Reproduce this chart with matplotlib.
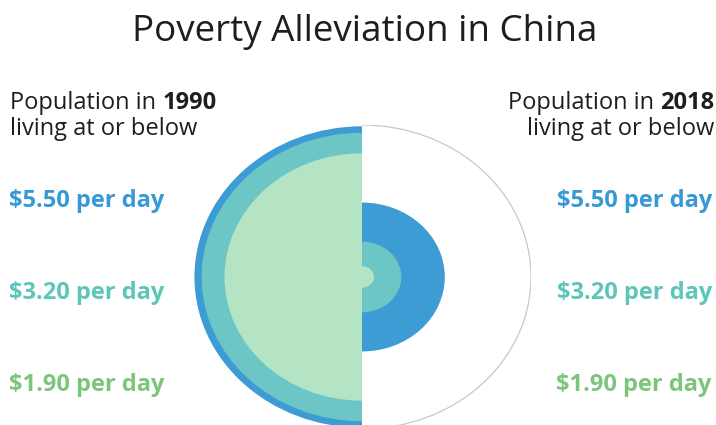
import numpy as np
import matplotlib.pyplot as plt
from matplotlib.patches import Wedge, Arc

# Share of population (%) living at or below each poverty line
thresholds = ['$5.50 per day', '$3.20 per day', '$1.90 per day']
share_1990 = [98.3, 90.0, 66.2]
share_2018 = [24.0, 5.4, 0.5]
years = ['1990', '2018']

fill_colors = ['#3e9cd4', '#6cc6c6', '#b4e4c4']
label_colors = ['#3799d6', '#5dc6b8', '#7cc67c']

plt.rcParams['font.family'] = ['Open Sans', 'DejaVu Sans']

W, H = 716, 425
fig = plt.figure(figsize=(W / 100, H / 100), dpi=100)
fig.patch.set_facecolor('white')

# text layer in pixel coordinates (origin top-left)
ax = fig.add_axes([0, 0, 1, 1])
ax.set_xlim(0, W)
ax.set_ylim(H, 0)
ax.axis('off')

# circle layer: radius 1 = whole population, area proportional to share
cx, cy = 362, 277
rx, ry = 169, 152
cax = fig.add_axes([(cx - rx) / W, (H - cy - ry) / H, 2 * rx / W, 2 * ry / H])
cax.set_xlim(-1, 1)
cax.set_ylim(-1, 1)
cax.axis('off')

for i in range(len(thresholds)):
    r90 = np.sqrt(share_1990[i] / 100)
    r18 = np.sqrt(share_2018[i] / 100)
    cax.add_patch(Wedge((0, 0), r90, 90, 270, color=fill_colors[i], lw=0))
    cax.add_patch(Wedge((0, 0), r18, -90, 90, color=fill_colors[i], lw=0))
cax.add_patch(Arc((0, 0), 2, 2, theta1=-90, theta2=90, color='#c8c8c8', lw=0.9))

ax.text(W / 2 + 7, 32, 'Poverty Alleviation in China', ha='center', va='center',
        fontsize=26.5, color='#1e1e1e')

# column headers
fs_hdr = 17
hdr = dict(fontsize=fs_hdr, color='#1e1e1e', va='baseline')
t = ax.text(10, 109, 'Population in ', ha='left', **hdr)
ax.annotate(years[0], xy=(1, 0), xycoords=t, ha='left', va='bottom',
            fontsize=fs_hdr, color='#1e1e1e', fontweight='bold')
ax.text(10, 135, 'living at or below', ha='left', **hdr)

t = ax.text(714, 109, years[1], ha='right', fontweight='bold', **hdr)
ax.annotate('Population in ', xy=(0, 0), xycoords=t, ha='right', va='bottom',
            fontsize=fs_hdr, color='#1e1e1e')
ax.text(714, 135, 'living at or below', ha='right', **hdr)

# poverty line labels on both sides
label_y = [201, 293, 385]
for name, y, c in zip(thresholds, label_y, label_colors):
    ax.text(9, y, name, ha='left', va='center', fontsize=17,
            fontweight='bold', color=c)
    ax.text(712, y, name, ha='right', va='center', fontsize=17,
            fontweight='bold', color=c)

fig.savefig('out.png', dpi=100)
